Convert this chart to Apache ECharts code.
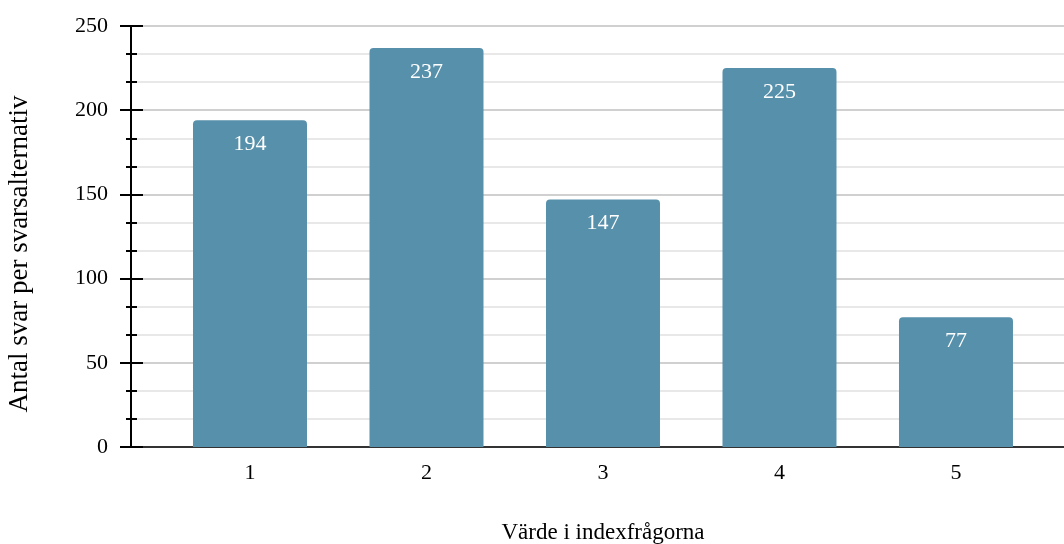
<!DOCTYPE html>
<html>
<head>
<meta charset="utf-8">
<script src="https://cdn.jsdelivr.net/npm/echarts@6/dist/echarts.min.js"></script>
<style>html,body{margin:0;padding:0;background:#fff}#c{width:1064px;height:544px}</style>
</head>
<body>
<div id="c"></div>
<script>
const categories = [1, 2, 3, 4, 5];
const values = [194, 237, 147, 225, 77];
const yTicks = [0, 50, 100, 150, 200, 250];
const xTitle = 'Värde i indexfrågorna';
const yTitle = 'Antal svar per svarsalternativ';

const font = '"Liberation Serif", "DejaVu Serif", serif';
const chart = echarts.init(document.getElementById('c'));
const barData = categories.map((c, i) => [c, values[i]]);

chart.setOption({
  animation: false,
  backgroundColor: '#fff',
  grid: { left: 131, right: 0, top: 26, bottom: 97, containLabel: false, outerBoundsMode: 'none' },
  graphic: [{
    type: 'text',
    x: 603, y: 533,
    style: { text: xTitle, fill: '#000', font: '23px ' + font, align: 'center', verticalAlign: 'middle' }
  }, {
    type: 'text',
    x: 20, y: 254,
    rotation: Math.PI / 2,
    style: { text: yTitle, fill: '#000', font: '27px ' + font, align: 'center', verticalAlign: 'middle' }
  }],
  xAxis: {
    type: 'value',
    min: 0.3258,
    max: 5.612,
    axisLine: { show: true, onZero: false, lineStyle: { color: '#333', width: 2 } },
    axisTick: { show: false },
    splitLine: { show: false },
    axisLabel: { customValues: categories, margin: 15, color: '#000', fontFamily: font, fontSize: 22 }
  },
  yAxis: [{
    type: 'value',
    min: 0, max: 250, interval: 50,
    axisLine: { show: true, lineStyle: { color: '#000', width: 2 } },
    axisTick: { show: true, length: 11, lineStyle: { color: '#000', width: 2 } },
    minorTick: { show: true, splitNumber: 3, length: 5, lineStyle: { color: '#000', width: 2 } },
    splitLine: { show: true, lineStyle: { color: '#d0d0d0', width: 2 } },
    minorSplitLine: { show: true, lineStyle: { color: '#e8e8e8', width: 2 } },
    axisLabel: { customValues: yTicks, margin: 23, color: '#000', fontFamily: font, fontSize: 22 }
  }, {
    type: 'value',
    position: 'left',
    min: 0, max: 250, interval: 50,
    axisLine: { show: false },
    axisTick: { show: true, inside: true, length: 12, lineStyle: { color: '#000', width: 2 } },
    minorTick: { show: true, splitNumber: 3, length: 6, lineStyle: { color: '#000', width: 2 } },
    splitLine: { show: false },
    axisLabel: { show: false }
  }],
  series: [{
    type: 'bar',
    data: barData,
    barWidth: 114,
    itemStyle: { color: '#5790ab', borderRadius: [4, 4, 0, 0] },
    label: {
      show: true, position: 'insideTop', distance: 13,
      color: '#fff', fontFamily: font, fontSize: 22
    }
  }]
});
</script>
</body>
</html>
